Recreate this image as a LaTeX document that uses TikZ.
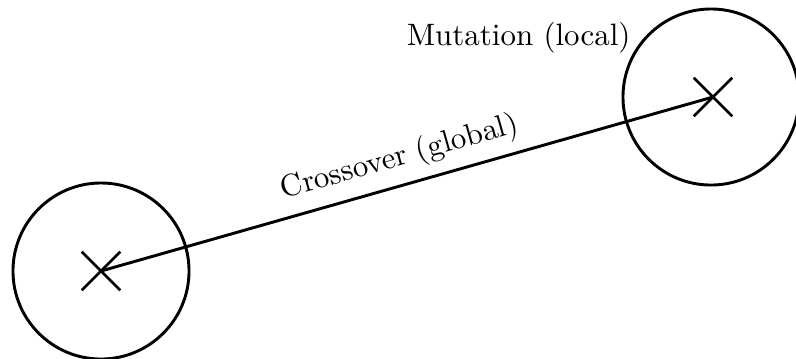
\documentclass[tikz,border=0pt]{standalone}
\usetikzlibrary{shapes.misc}
\begin{document}
\begin{tikzpicture}[x=0.3425pt,y=-0.3425pt,
  every node/.style={font=\fontsize{10.6}{12.7}\selectfont},
  region/.style={draw,circle,line width=1pt,minimum size=60.3pt,inner sep=0pt},
  center/.style={draw,cross out,line width=0.9pt,minimum size=12.3pt,inner sep=0pt},
  link/.style={line width=1pt}]
\useasboundingbox (0,0) rectangle (796,358);
\node[region] (LC) at (101,271) {};
\node[region] (RC) at (711,97) {};
\node[center] (L) at (101,271) {};
\node[center] (R) at (713,97) {};
\draw[link] (L.center) -- node[sloped,above,pos=0.5,inner sep=3.5pt] {Crossover (global)} (R.center);
\node[anchor=base east,inner sep=0pt] (mut) at (631,45) {Mutation (local)};
\end{tikzpicture}
\end{document}
